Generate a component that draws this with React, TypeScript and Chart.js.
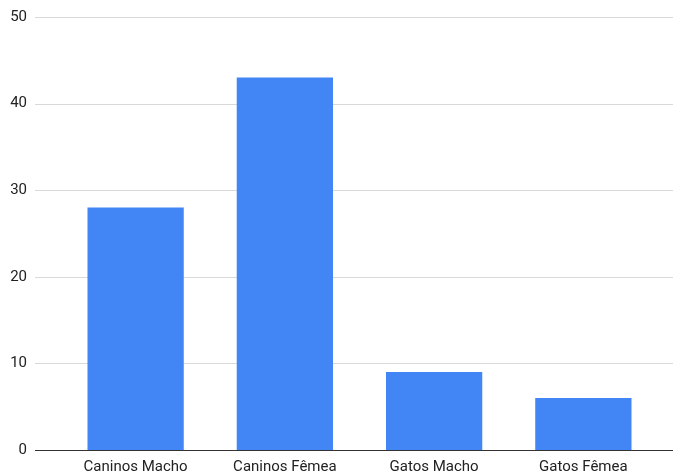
import React, { useEffect, useRef } from "react";
import { Chart, registerables } from "chart.js";

Chart.register(...registerables);

const categories = ["Caninos Macho", "Caninos Fêmea", "Gatos Macho", "Gatos Fêmea"];
const values = [28, 43, 9, 6];
const yTicks = [0, 10, 20, 30, 40, 50];

const BAR_COLOR = "#4285F4";
const GRID_COLOR = "#d9d9d9";
const BASE_COLOR = "#333333";
const TEXT_COLOR = "#222222";
const FONT = "Roboto";

// Horizontal gridlines that run from just right of the tick labels to the canvas edge
const wideGrid = {
  id: "wideGrid",
  beforeDatasetsDraw(chart: any) {
    const { ctx, scales } = chart;
    const y = scales.y;
    const x0 = y.left + 35;
    const x1 = chart.width;
    ctx.save();
    ctx.lineWidth = 1;
    yTicks.forEach((v) => {
      if (v === 0) return;
      const py = Math.round(y.getPixelForValue(v)) + 0.5;
      ctx.strokeStyle = GRID_COLOR;
      ctx.beginPath();
      ctx.moveTo(x0, py);
      ctx.lineTo(x1, py);
      ctx.stroke();
    });
    ctx.restore();
  },
  afterDatasetsDraw(chart: any) {
    const { ctx, scales } = chart;
    const y = scales.y;
    const x0 = y.left + 35;
    const x1 = chart.width;
    const py = Math.round(y.getPixelForValue(0)) + 0.5;
    ctx.save();
    ctx.strokeStyle = BASE_COLOR;
    ctx.lineWidth = 1;
    ctx.beginPath();
    ctx.moveTo(x0, py);
    ctx.lineTo(x1, py);
    ctx.stroke();
    ctx.restore();
  },
};

export default function App() {
  const ref = useRef<HTMLCanvasElement | null>(null);

  useEffect(() => {
    if (!ref.current) return;
    const chart = new Chart(ref.current, {
      type: "bar",
      data: {
        labels: categories,
        datasets: [
          {
            data: values,
            backgroundColor: BAR_COLOR,
            borderWidth: 0,
            categoryPercentage: 1,
            barPercentage: 0.645,
          },
        ],
      },
      options: {
        animation: false,
        responsive: false,
        maintainAspectRatio: false,
        layout: { padding: { top: 17, right: 15, bottom: 2, left: 0 } },
        plugins: {
          legend: { display: false },
          tooltip: { enabled: false },
        },
        scales: {
          x: {
            grid: { display: false, drawTicks: false },
            border: { display: false },
            afterFit(scale: any) {
              scale.height = 28;
            },
            ticks: {
              color: TEXT_COLOR,
              font: { family: FONT, size: 15 },
              padding: 8,
              maxRotation: 0,
              autoSkip: false,
            },
          },
          y: {
            min: 0,
            max: 50,
            grid: { display: false, drawTicks: false },
            border: { display: false },
            afterFit(scale: any) {
              scale.width = 61;
              scale.paddingTop = 0;
              scale.paddingBottom = 0;
            },
            afterBuildTicks(scale: any) {
              scale.ticks = yTicks.map((v) => ({ value: v }));
            },
            ticks: {
              color: TEXT_COLOR,
              font: { family: FONT, size: 15 },
              padding: 34,
            },
          },
        },
      },
      plugins: [wideGrid],
    });
    return () => chart.destroy();
  }, []);

  return (
    <div
      style={{
        position: "fixed",
        left: 0,
        top: 0,
        width: 673,
        height: 475,
        overflow: "hidden",
        background: "#ffffff",
      }}
    >
      <canvas ref={ref} width={673} height={480} style={{ display: "block" }} />
    </div>
  );
}
